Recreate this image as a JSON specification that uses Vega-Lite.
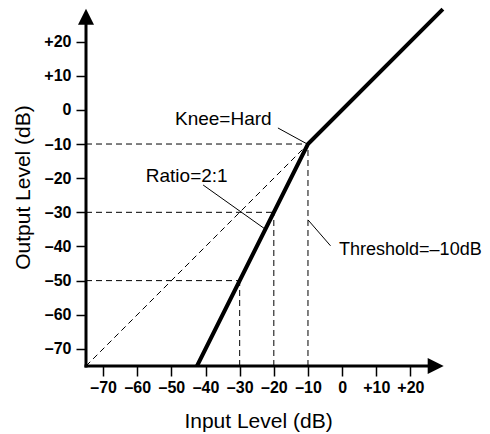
{
  "$schema": "https://vega.github.io/schema/vega-lite/v6.json",
  "width": 358,
  "height": 358,
  "autosize": {"type": "none"},
  "padding": {"left": 86, "top": 8, "right": 46, "bottom": 68},
  "background": "white",
  "config": {
    "view": {"stroke": null},
    "font": "Liberation Sans",
    "text": {"font": "Liberation Sans"}
  },
  "datasets": {
    "guides": [
      {"x": -75, "y": -75, "x2": -10, "y2": -10},
      {"x": -75, "y": -10, "x2": -10, "y2": -10},
      {"x": -75, "y": -30, "x2": -20, "y2": -30},
      {"x": -75, "y": -50, "x2": -30, "y2": -50},
      {"x": -10, "y": -75, "x2": -10, "y2": -10},
      {"x": -20, "y": -75, "x2": -20, "y2": -30},
      {"x": -30, "y": -75, "x2": -30, "y2": -50}
    ],
    "leaders": [
      {"x": -18.8, "y": -5.3, "x2": -10.4, "y2": -9.9},
      {"x": -40.7, "y": -22.0, "x2": -22.7, "y2": -34.8},
      {"x": -10.0, "y": -32.2, "x2": -3.4, "y2": -39.8}
    ],
    "curve": [
      {"x": -42.5, "y": -75},
      {"x": -10, "y": -10},
      {"x": 29.5, "y": 29.5}
    ],
    "axislines": [
      {"x": -75, "y": -75, "x2": 26, "y2": -75},
      {"x": -75, "y": -75, "x2": -75, "y2": 26}
    ],
    "arrows": [
      {"x": 27.4, "y": -75, "dir": "right"},
      {"x": -75, "y": 27.3, "dir": "up"}
    ],
    "labelsCenter": [
      {"x": -34.8, "y": -4.4, "text": "Knee=Hard"},
      {"x": -45.5, "y": -21.1, "text": "Ratio=2:1"}
    ],
    "labelsLeft": [
      {"x": -0.9, "y": -42.5, "text": "Threshold=\u201310dB"}
    ]
  },
  "encoding": {
    "x": {
      "field": "x",
      "type": "quantitative",
      "scale": {"domain": [-75, 29.83], "nice": false, "zero": false},
      "axis": {
        "values": [-70, -60, -50, -40, -30, -20, -10, 0, 10, 20],
        "domain": false,
        "grid": false,
        "ticks": true,
        "tickColor": "black",
        "tickSize": 10,
        "tickWidth": 1.5,
        "labelFont": "Liberation Sans",
        "labelFontWeight": "bold",
        "labelFontSize": 16,
        "labelColor": "black",
        "labelPadding": 3,
        "labelOverlap": false,
        "labelFlush": false,
        "labelBound": false,
        "labelExpr": "datum.value > 0 ? '+' + datum.value : (datum.value < 0 ? '\u2013' + abs(datum.value) : '0')",
        "title": "Input Level (dB)",
        "titleFont": "Liberation Sans",
        "titleFontSize": 21,
        "titleFontWeight": "normal",
        "titleColor": "black",
        "titleBaseline": "alphabetic",
        "titleX": 172,
        "titleY": 61
      }
    },
    "y": {
      "field": "y",
      "type": "quantitative",
      "scale": {"domain": [-75, 29.83], "nice": false, "zero": false},
      "axis": {
        "values": [-70, -60, -50, -40, -30, -20, -10, 0, 10, 20],
        "domain": false,
        "grid": false,
        "ticks": true,
        "tickColor": "black",
        "tickSize": 10,
        "tickWidth": 1.5,
        "labelFont": "Liberation Sans",
        "labelFontWeight": "bold",
        "labelFontSize": 16,
        "labelColor": "black",
        "labelPadding": 5,
        "labelOverlap": false,
        "labelFlush": false,
        "labelBound": false,
        "labelExpr": "datum.value > 0 ? '+' + datum.value : (datum.value < 0 ? '\u2013' + abs(datum.value) : '0')",
        "title": "Output Level (dB)",
        "titleFont": "Liberation Sans",
        "titleFontSize": 21,
        "titleFontWeight": "normal",
        "titleColor": "black",
        "titleBaseline": "bottom",
        "titleX": -53
      }
    }
  },
  "layer": [
    {
      "data": {"name": "guides"},
      "mark": {"type": "rule", "color": "black", "strokeWidth": 1, "strokeDash": [6, 4]},
      "encoding": {"x2": {"field": "x2"}, "y2": {"field": "y2"}}
    },
    {
      "data": {"name": "leaders"},
      "mark": {"type": "rule", "color": "black", "strokeWidth": 1},
      "encoding": {"x2": {"field": "x2"}, "y2": {"field": "y2"}}
    },
    {
      "data": {"name": "curve"},
      "mark": {"type": "line", "color": "black", "strokeWidth": 4, "strokeCap": "butt", "strokeJoin": "miter"},
      "encoding": {"order": {"field": "x", "type": "quantitative"}}
    },
    {
      "data": {"name": "axislines"},
      "mark": {"type": "rule", "color": "black", "strokeWidth": 3, "strokeCap": "square"},
      "encoding": {"x2": {"field": "x2"}, "y2": {"field": "y2"}}
    },
    {
      "data": {"name": "arrows"},
      "mark": {"type": "point", "filled": true, "color": "black", "opacity": 1, "size": 256},
      "encoding": {
        "shape": {
          "field": "dir",
          "type": "nominal",
          "scale": {"domain": ["right", "up"], "range": ["M1,0L-1,-1L-1,1Z", "M0,-1L-1,1L1,1Z"]},
          "legend": null
        }
      }
    },
    {
      "data": {"name": "labelsCenter"},
      "mark": {"type": "text", "align": "center", "baseline": "alphabetic", "fontSize": 19, "color": "black", "font": "Liberation Sans"},
      "encoding": {"text": {"field": "text"}}
    },
    {
      "data": {"name": "labelsLeft"},
      "mark": {"type": "text", "align": "left", "baseline": "alphabetic", "fontSize": 18, "color": "black", "font": "Liberation Sans"},
      "encoding": {"text": {"field": "text"}}
    }
  ]
}
